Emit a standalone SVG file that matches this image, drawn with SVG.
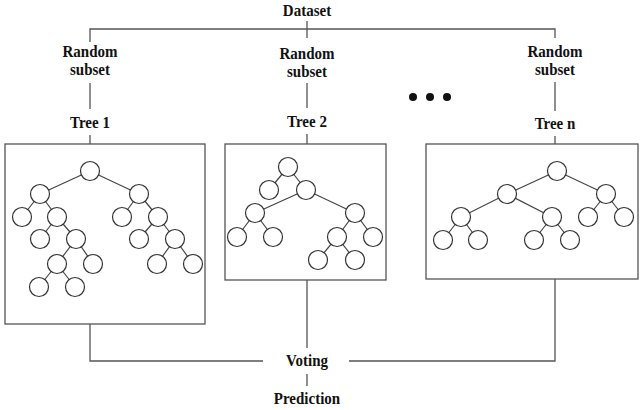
<svg xmlns="http://www.w3.org/2000/svg" width="641" height="410" viewBox="0 0 641 410">
<style>
.t{font-family:"Liberation Serif","Times New Roman",serif;font-weight:bold;font-size:15px;fill:#111;text-anchor:middle}
.c{stroke:#555;stroke-width:1.3;fill:none}
.box{fill:#fff;stroke:#555;stroke-width:1.3}
.e{stroke:#444;stroke-width:1.2}
.n{fill:#fff;stroke:#333;stroke-width:1.2}
</style>
<rect width="641" height="410" fill="#fff"/>
<g id="connectors" class="c">
<path d="M307 21V38M90 42V29H555V38"/>
<path d="M90 83V109M307 83V108M555 82V111"/>
<path d="M90 135V144M307 134V144M555 136V144"/>
<path d="M90 324V361H263M349 361H555V279M307 280V348M307 374V386"/>
</g>
<g id="dataset"><text class="t" transform="translate(307,16) scale(1,1.15)">Dataset</text></g>
<g id="subset1"><text class="t" transform="translate(90,57) scale(1,1.15)">Random</text><text class="t" transform="translate(90,75) scale(1,1.15)">subset</text></g>
<g id="subset2"><text class="t" transform="translate(307,59) scale(1,1.15)">Random</text><text class="t" transform="translate(307,77) scale(1,1.15)">subset</text></g>
<g id="subsetn"><text class="t" transform="translate(555,57) scale(1,1.15)">Random</text><text class="t" transform="translate(555,75) scale(1,1.15)">subset</text></g>
<g id="dots" fill="#111"><circle cx="413" cy="97" r="4"/><circle cx="430" cy="97" r="4"/><circle cx="447" cy="97" r="4"/></g>
<g id="label-tree1"><text class="t" transform="translate(90,128) scale(1,1.15)">Tree 1</text></g>
<g id="label-tree2"><text class="t" transform="translate(307,127) scale(1,1.15)">Tree 2</text></g>
<g id="label-treen"><text class="t" transform="translate(555,129) scale(1,1.15)">Tree n</text></g>
<g id="tree1">
<rect class="box" x="5" y="144" width="200" height="180"/>
<g class="e">
<line x1="90" y1="171" x2="40" y2="194"/><line x1="90" y1="171" x2="139" y2="194"/>
<line x1="40" y1="194" x2="22" y2="217"/><line x1="40" y1="194" x2="57" y2="217"/>
<line x1="57" y1="217" x2="40" y2="239"/><line x1="57" y1="217" x2="76" y2="239"/>
<line x1="76" y1="239" x2="57" y2="264"/><line x1="76" y1="239" x2="93" y2="264"/>
<line x1="57" y1="264" x2="39" y2="287"/><line x1="57" y1="264" x2="75" y2="287"/>
<line x1="139" y1="194" x2="122" y2="217"/><line x1="139" y1="194" x2="158" y2="217"/>
<line x1="158" y1="217" x2="139" y2="239"/><line x1="158" y1="217" x2="175" y2="239"/>
<line x1="175" y1="239" x2="157" y2="264"/><line x1="175" y1="239" x2="193" y2="264"/>
</g>
<g class="n">
<circle cx="90" cy="171" r="9.5"/><circle cx="40" cy="194" r="9.5"/><circle cx="139" cy="194" r="9.5"/>
<circle cx="22" cy="217" r="9.5"/><circle cx="57" cy="217" r="9.5"/><circle cx="122" cy="217" r="9.5"/><circle cx="158" cy="217" r="9.5"/>
<circle cx="40" cy="239" r="9.5"/><circle cx="76" cy="239" r="9.5"/><circle cx="139" cy="239" r="9.5"/><circle cx="175" cy="239" r="9.5"/>
<circle cx="57" cy="264" r="9.5"/><circle cx="93" cy="264" r="9.5"/><circle cx="157" cy="264" r="9.5"/><circle cx="193" cy="264" r="9.5"/>
<circle cx="39" cy="287" r="9.5"/><circle cx="75" cy="287" r="9.5"/>
</g>
</g>
<g id="tree2">
<rect class="box" x="225" y="144" width="161" height="136"/>
<g class="e">
<line x1="288" y1="167" x2="269" y2="190"/><line x1="288" y1="167" x2="306" y2="190"/>
<line x1="306" y1="190" x2="255" y2="213"/><line x1="306" y1="190" x2="355" y2="213"/>
<line x1="255" y1="213" x2="237" y2="237"/><line x1="255" y1="213" x2="273" y2="237"/>
<line x1="355" y1="213" x2="337" y2="237"/><line x1="355" y1="213" x2="373" y2="237"/>
<line x1="337" y1="237" x2="318" y2="260"/><line x1="337" y1="237" x2="355" y2="260"/>
</g>
<g class="n">
<circle cx="288" cy="167" r="9.5"/><circle cx="269" cy="190" r="9.5"/><circle cx="306" cy="190" r="9.5"/>
<circle cx="255" cy="213" r="9.5"/><circle cx="355" cy="213" r="9.5"/>
<circle cx="237" cy="237" r="9.5"/><circle cx="273" cy="237" r="9.5"/><circle cx="337" cy="237" r="9.5"/><circle cx="373" cy="237" r="9.5"/>
<circle cx="318" cy="260" r="9.5"/><circle cx="355" cy="260" r="9.5"/>
</g>
</g>
<g id="treen">
<rect class="box" x="426" y="144" width="212" height="135"/>
<g class="e">
<line x1="557" y1="171" x2="507" y2="194"/><line x1="557" y1="171" x2="606" y2="194"/>
<line x1="507" y1="194" x2="461" y2="217"/><line x1="507" y1="194" x2="552" y2="217"/>
<line x1="606" y1="194" x2="588" y2="217"/><line x1="606" y1="194" x2="624" y2="217"/>
<line x1="461" y1="217" x2="443" y2="240"/><line x1="461" y1="217" x2="478" y2="240"/>
<line x1="552" y1="217" x2="534" y2="240"/><line x1="552" y1="217" x2="570" y2="240"/>
</g>
<g class="n">
<circle cx="557" cy="171" r="9.5"/><circle cx="507" cy="194" r="9.5"/><circle cx="606" cy="194" r="9.5"/>
<circle cx="461" cy="217" r="9.5"/><circle cx="552" cy="217" r="9.5"/><circle cx="588" cy="217" r="9.5"/><circle cx="624" cy="217" r="9.5"/>
<circle cx="443" cy="240" r="9.5"/><circle cx="478" cy="240" r="9.5"/><circle cx="534" cy="240" r="9.5"/><circle cx="570" cy="240" r="9.5"/>
</g>
</g>
<g id="voting"><text class="t" transform="translate(307,366) scale(1,1.15)">Voting</text></g>
<g id="prediction"><text class="t" transform="translate(307,404) scale(1,1.15)">Prediction</text></g>
</svg>
